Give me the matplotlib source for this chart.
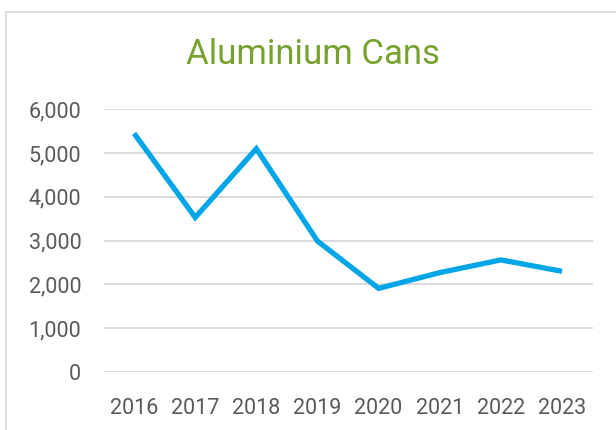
import matplotlib
matplotlib.use("Agg")
import matplotlib.pyplot as plt
from matplotlib.lines import Line2D

years = ["2016", "2017", "2018", "2019", "2020", "2021", "2022", "2023"]
cans = [5450, 3530, 5100, 2990, 1910, 2270, 2560, 2300]
yticks = [0, 1000, 2000, 3000, 4000, 5000, 6000]

plt.rcParams['font.family'] = ['Roboto', 'DejaVu Sans']

W, H = 616, 430
fig = plt.figure(figsize=(W/100, H/100), dpi=100)
fig.patch.set_facecolor('white')

left, right = 103.5/W, 592.6/W
bottom, top = 1 - 372/H, 1 - 109.3/H
ax = fig.add_axes([left, bottom, right-left, top-bottom])

x = list(range(len(years)))
ax.plot(x, cans, color='#00A6E8', lw=3.8, solid_joinstyle='miter', solid_capstyle='butt', zorder=3)

ax.set_xlim(-0.5, len(years)-0.5)
ax.set_ylim(0, 6000)
ax.set_yticks(yticks)
ax.set_yticklabels([f"{v:,}" for v in yticks])
ax.set_xticks(x)
ax.set_xticklabels(years)
ax.grid(axis='y', color='#D9D9D9', lw=1.3)
ax.set_axisbelow(True)
for s in ax.spines.values():
    s.set_visible(False)
ax.tick_params(axis='both', length=0, colors='#595959', labelsize=15.5)
ax.tick_params(axis='y', pad=16)
ax.tick_params(axis='x', pad=19)

fig.text(313/W, 1 - 54/H, "Aluminium Cans", ha='center', va='center',
         color='#77A22F', fontsize=25)

# chart frame (partially visible)
fig.add_artist(Line2D([6/W, 6/W], [0, 1 - 12/H], color='#D9D9D9', lw=1.2, transform=fig.transFigure))
fig.add_artist(Line2D([6/W, 1], [1 - 12/H, 1 - 12/H], color='#D9D9D9', lw=1.2, transform=fig.transFigure))

fig.savefig("out.png", dpi=100)
